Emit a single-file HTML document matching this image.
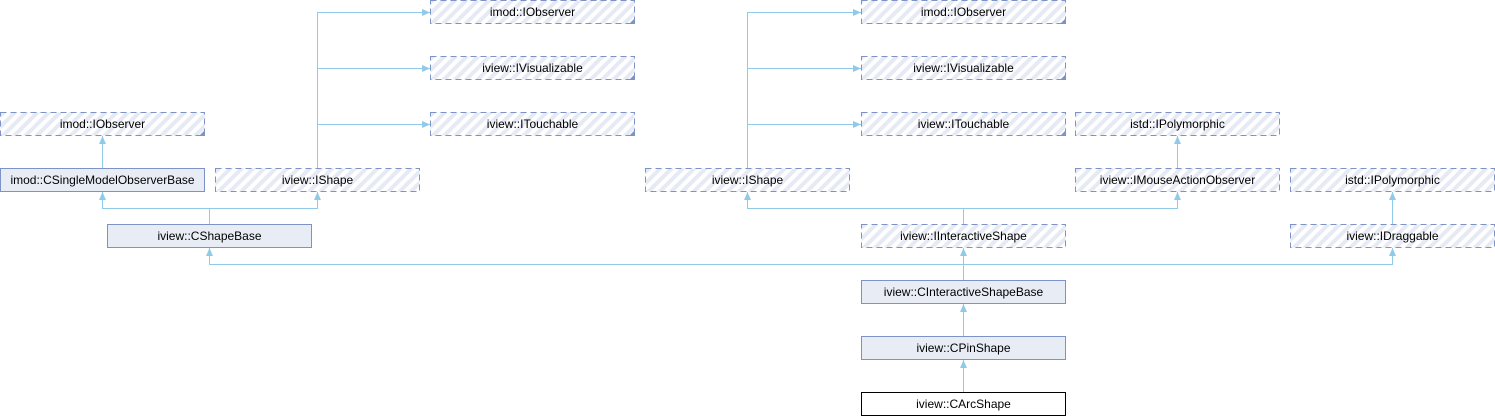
<!DOCTYPE html>
<html><head><meta charset="utf-8"><style>
html,body{margin:0;padding:0;background:#fff;}
svg{display:block;}
text{font-family:"Liberation Sans",sans-serif;font-size:12px;fill:#000;}
</style></head><body>
<svg width="1495" height="416" viewBox="0 0 1495 416" xmlns="http://www.w3.org/2000/svg">
<defs>
<pattern id="h" patternUnits="userSpaceOnUse" width="8" height="8" patternTransform="rotate(45)">
<rect width="8" height="8" fill="#fff"/><rect width="4" height="8" fill="#e6eaf4"/>
</pattern>
<marker id="a" markerWidth="8" markerHeight="8" refX="4" refY="7" orient="auto-start-reverse" markerUnits="userSpaceOnUse">
</marker>
</defs>
<g fill="none" stroke="#8fcbe8" stroke-width="1">
<!-- left IShape tree -->
<path d="M317.5 168V12.5H430M317.5 68.5H430M317.5 124.5H430"/>
<path d="M747.5 168V12.5H861M747.5 68.5H861M747.5 124.5H861"/>
<path d="M102.5 136V168M209.5 224V208.5H102.5V192M209.5 208.5H317.5V192"/>
<path d="M963.5 224V208.5H747.5V192M963.5 208.5H1177.5V192"/>
<path d="M1177.5 168V136M1392.5 224V192"/>
<path d="M963.5 280V264.5H209.5V248M963.5 264.5H1392.5V248M963.5 264.5V248"/>
<path d="M963.5 336V304M963.5 392V360"/>
</g>
<g fill="#8fcbe8">
<path d="M102.5 136l-3.5 8h7z"/><path d="M102.5 192l-3.5 8h7z"/><path d="M317.5 192l-3.5 8h7z"/>
<path d="M747.5 192l-3.5 8h7z"/><path d="M1177.5 192l-3.5 8h7z"/><path d="M1177.5 136l-3.5 8h7z"/>
<path d="M1392.5 192l-3.5 8h7z"/><path d="M209.5 248l-3.5 8h7z"/><path d="M963.5 248l-3.5 8h7z"/>
<path d="M1392.5 248l-3.5 8h7z"/><path d="M963.5 304l-3.5 8h7z"/><path d="M963.5 360l-3.5 8h7z"/>
<path d="M430 12.5l-8-3.5v7z"/><path d="M430 68.5l-8-3.5v7z"/><path d="M430 124.5l-8-3.5v7z"/>
<path d="M861 12.5l-8-3.5v7z"/><path d="M861 68.5l-8-3.5v7z"/><path d="M861 124.5l-8-3.5v7z"/>
</g>
<!-- interface boxes -->
<g stroke="#7d92c6" stroke-dasharray="6,4" fill="url(#h)">
<rect x="0.5" y="112.5" width="204" height="23"/>
<rect x="215.5" y="168.5" width="204" height="23"/>
<rect x="430.5" y="0.5" width="204" height="23"/>
<rect x="430.5" y="56.5" width="204" height="23"/>
<rect x="430.5" y="112.5" width="204" height="23"/>
<rect x="861.5" y="0.5" width="204" height="23"/>
<rect x="861.5" y="56.5" width="204" height="23"/>
<rect x="861.5" y="112.5" width="204" height="23"/>
<rect x="645.5" y="168.5" width="204" height="23"/>
<rect x="1075.5" y="112.5" width="204" height="23"/>
<rect x="1075.5" y="168.5" width="204" height="23"/>
<rect x="1290.5" y="168.5" width="204" height="23"/>
<rect x="861.5" y="224.5" width="204" height="23"/>
<rect x="1290.5" y="224.5" width="204" height="23"/>
</g>
<g fill="#7d92c6">
<path d="M199 136h6v-6z"/><path d="M629 24h6v-6z"/><path d="M629 80h6v-6z"/><path d="M629 136h6v-6z"/>
<path d="M1060 24h6v-6z"/><path d="M1060 80h6v-6z"/><path d="M1060 136h6v-6z"/>
</g>
<g stroke="#7d92c6" fill="#e8ecf5">
<rect x="0.5" y="168.5" width="204" height="23"/>
<rect x="107.5" y="224.5" width="204" height="23"/>
<rect x="861.5" y="280.5" width="204" height="23"/>
<rect x="861.5" y="336.5" width="204" height="23"/>
</g>
<rect x="861.5" y="392.5" width="204" height="23" fill="#fff" stroke="#000"/>
<g text-anchor="middle">
<text x="102.5" y="128">imod::IObserver</text>
<text x="102.5" y="184">imod::CSingleModelObserverBase</text>
<text x="317.5" y="184">iview::IShape</text>
<text x="209.5" y="240">iview::CShapeBase</text>
<text x="532.5" y="16">imod::IObserver</text>
<text x="532.5" y="72">iview::IVisualizable</text>
<text x="532.5" y="128">iview::ITouchable</text>
<text x="963.5" y="16">imod::IObserver</text>
<text x="963.5" y="72">iview::IVisualizable</text>
<text x="963.5" y="128">iview::ITouchable</text>
<text x="747.5" y="184">iview::IShape</text>
<text x="1177.5" y="128">istd::IPolymorphic</text>
<text x="1177.5" y="184">iview::IMouseActionObserver</text>
<text x="1392.5" y="184">istd::IPolymorphic</text>
<text x="963.5" y="240">iview::IInteractiveShape</text>
<text x="1392.5" y="240">iview::IDraggable</text>
<text x="963.5" y="296">iview::CInteractiveShapeBase</text>
<text x="963.5" y="352">iview::CPinShape</text>
<text x="963.5" y="408">iview::CArcShape</text>
</g>
</svg>
</body></html>
